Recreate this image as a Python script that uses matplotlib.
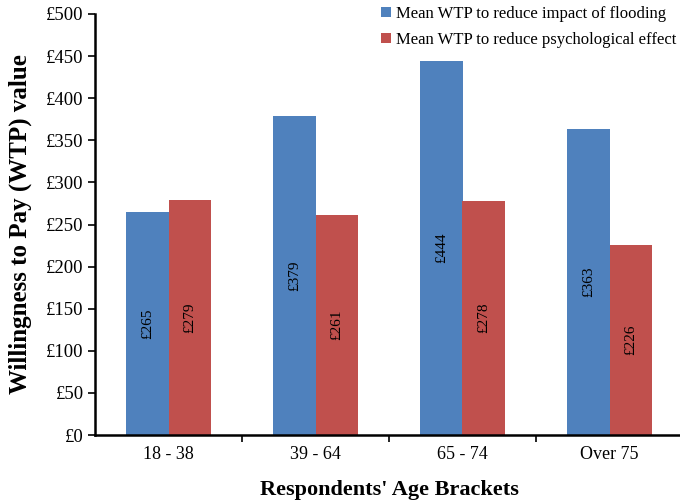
import matplotlib
matplotlib.use("Agg")
import matplotlib.pyplot as plt
import numpy as np
from matplotlib.ticker import FuncFormatter, MultipleLocator

categories = ["18 - 38", "39 - 64", "65 - 74", "Over 75"]
flooding = [265, 379, 444, 363]
psychological = [279, 261, 278, 226]
series_names = ["Mean WTP to reduce impact of flooding",
                "Mean WTP to reduce psychological effect"]

plt.rcParams['font.family'] = ['Liberation Serif', 'DejaVu Serif']

fig = plt.figure(figsize=(6.8, 5.0), dpi=100)
ax = fig.add_axes([95/680, 0.13, 588/680, 421/500])

x = np.arange(len(categories))
w = 0.286
b1 = ax.bar(x - w/2, flooding, w, color="#4F81BD", label=series_names[0])
b2 = ax.bar(x + w/2, psychological, w, color="#C0504D", label=series_names[1])

for bars, vals in ((b1, flooding), (b2, psychological)):
    ax.bar_label(bars, labels=[f"£{v}" for v in vals], label_type='center',
                 rotation=90, fontsize=11, color='black')

ax.set_xlim(-0.5, len(categories) - 0.5)
ax.set_ylim(0, 500)
ax.yaxis.set_major_locator(MultipleLocator(50))
ax.yaxis.set_major_formatter(FuncFormatter(lambda v, p: f"£{int(v)}"))
ax.set_xticks(x)
ax.set_xticklabels(categories)
ax.set_xticks(np.arange(0.5, len(categories) - 0.5), minor=True)
ax.tick_params(axis='x', which='major', length=0, labelsize=13, pad=8)
ax.tick_params(axis='x', which='minor', length=5, width=1.2, direction='out')
ax.tick_params(axis='y', length=5, width=1.2, labelsize=13.5, direction='out', pad=3)

for s in ('top', 'right'):
    ax.spines[s].set_visible(False)
for s in ('left', 'bottom'):
    ax.spines[s].set_linewidth(1.8)

ax.set_ylabel("Willingness to Pay (WTP) value", fontsize=18, fontweight='bold', labelpad=10)
ax.set_xlabel("Respondents' Age Brackets", fontsize=16, fontweight='bold', labelpad=12)

ax.legend(loc='upper right', bbox_to_anchor=(1.0, 1.035), frameon=False, fontsize=12,
          handlelength=0.6, handleheight=0.6, handletextpad=0.3, labelspacing=0.6,
          borderaxespad=0.0)

fig.savefig("out.png", dpi=100)
